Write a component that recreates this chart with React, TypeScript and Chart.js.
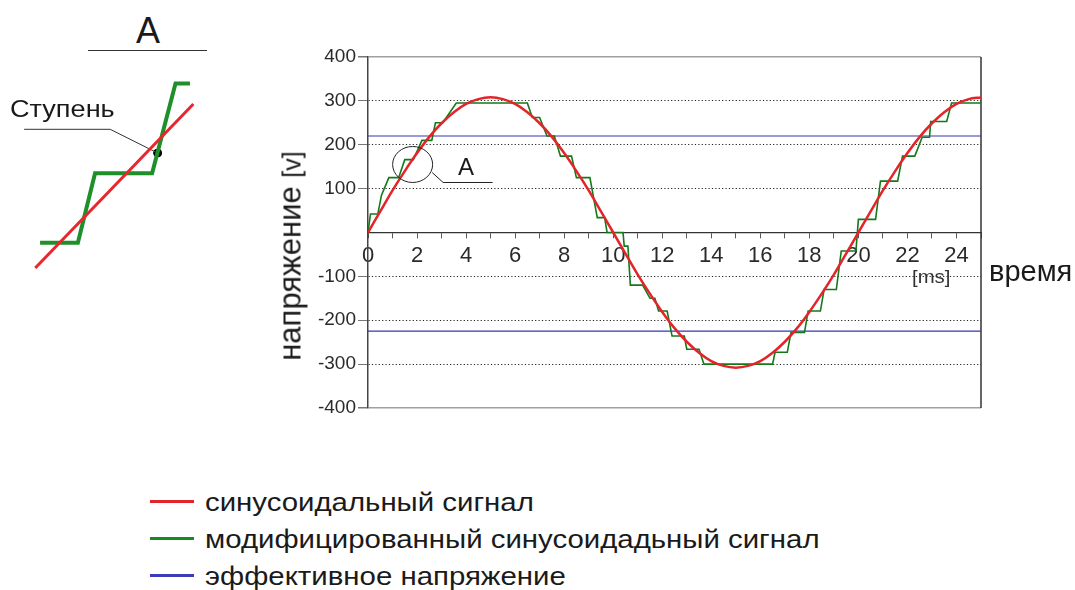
import React, { useEffect, useRef } from "react";
import { Chart, registerables } from "chart.js";

Chart.register(...registerables);

// ---------- data ----------
const sineTimes = [
  0, 0.5, 1, 1.5, 2, 2.5, 3, 3.5, 4, 4.5, 5, 5.5, 6, 6.5, 7, 7.5, 8, 8.5, 9, 9.5,
  10, 10.5, 11, 11.5, 12, 12.5, 13, 13.5, 14, 14.5, 15, 15.5, 16, 16.5, 17, 17.5,
  18, 18.5, 19, 19.5, 20, 20.5, 21, 21.5, 22, 22.5, 23, 23.5, 24, 24.5, 25,
];
const sineValues = [
  0, 48, 96, 140, 181, 218, 249, 274, 293, 304, 308, 304, 293, 274, 249, 218, 181, 140, 96, 48,
  0, -48, -96, -140, -181, -218, -249, -274, -293, -304, -308, -304, -293, -274, -249, -218,
  -181, -140, -96, -48, 0, 48, 96, 140, 181, 218, 249, 274, 293, 304, 308,
];

const stepTimes = [
  0, 0.1, 0.4, 0.55, 0.85, 1.25, 1.5, 1.85, 2.2, 2.6, 2.75, 3.05, 3.6,
  6.5, 6.7, 7.0, 7.3, 7.6, 7.85, 8.3, 8.5, 9.05, 9.35, 9.65, 9.75, 10.4, 10.45, 10.6, 10.7, 11.2,
  11.5, 11.7, 11.85, 12.2, 12.4, 12.9, 13.0, 13.5, 13.7,
  16.5, 16.6, 17.1, 17.25, 17.8, 17.95, 18.45, 18.6, 19.1, 19.3, 19.9, 20.0, 20.7, 20.9, 21.6,
  21.8, 22.3, 22.6, 22.9, 22.95, 23.6, 23.8, 25,
];
const stepValues = [
  0, 42, 42, 85, 125, 125, 166, 166, 210, 210, 250, 250, 295,
  295, 262, 262, 220, 220, 174, 174, 125, 125, 34, 34, 0, 0, -31, -31, -120, -120,
  -150, -150, -179, -179, -236, -236, -266, -266, -300,
  -300, -273, -273, -228, -228, -179, -179, -130, -130, -42, -42, 30, 30, 117, 117,
  174, 174, 217, 217, 253, 253, 295, 295,
];

const rmsTimes = [0, 25];
const rmsPositive = [220, 220];
const rmsNegative = [-225, -225];

const xTickLabels = [0, 2, 4, 6, 8, 10, 12, 14, 16, 18, 20, 22, 24];
const yTickValues = [-400, -300, -200, -100, 0, 100, 200, 300, 400];

// circled region "A" on the main chart (ms, V)
const markerTime = 1.82;
const markerValue = 155;

// inset "A" (zoomed detail): time in ms, voltage in V
const insetSineTimes = [1.22, 2.37];
const insetSineValues = [110, 207];
const insetStepTimes = [1.255, 1.53, 1.655, 2.07, 2.24, 2.345];
const insetStepValues = [125, 125, 166, 166, 219, 219];
const insetDotTime = [2.11];
const insetDotValue = [178];
const insetLeaderTimes = [2.11, 1.765, 1.139];
const insetLeaderValues = [178, 192, 192];

const legendItems = [
  { label: "синусоидальный сигнал", color: "#e3242b" },
  { label: "модифицированный синусоидадьный сигнал", color: "#178a22" },
  { label: "эффективное напряжение", color: "#3c3cb8" },
];

const FONT = "'Liberation Sans', Arial, sans-serif";

const pts = (xs: number[], ys: number[]) => xs.map((x, i) => ({ x, y: ys[i] }));

export default function App() {
  const mainRef = useRef<HTMLCanvasElement | null>(null);
  const insetRef = useRef<HTMLCanvasElement | null>(null);

  useEffect(() => {
    const framePlugin = {
      id: "framePlugin",
      beforeDatasetsDraw(chart: any) {
        const { ctx, chartArea: a } = chart;
        ctx.save();
        ctx.strokeStyle = "#333";
        ctx.lineWidth = 1.5;
        ctx.beginPath();
        ctx.moveTo(a.right, a.top);
        ctx.lineTo(a.right, a.bottom);
        ctx.stroke();
        ctx.restore();
      },
      afterDatasetsDraw(chart: any) {
        const { ctx, scales } = chart;
        const cx = scales.x.getPixelForValue(markerTime);
        const cy = scales.y.getPixelForValue(markerValue);
        ctx.save();
        ctx.strokeStyle = "#222";
        ctx.lineWidth = 1;
        ctx.beginPath();
        ctx.ellipse(cx, cy, 20, 18, 0, 0, Math.PI * 2);
        ctx.stroke();
        ctx.beginPath();
        ctx.moveTo(cx + 19.5, cy + 8);
        ctx.lineTo(cx + 30.5, cy + 18);
        ctx.lineTo(cx + 80, cy + 18);
        ctx.stroke();
        ctx.restore();
      },
    };

    const main = new Chart(mainRef.current as HTMLCanvasElement, {
      type: "line",
      data: {
        datasets: [
          {
            label: legendItems[0].label,
            data: pts(sineTimes, sineValues),
            borderColor: "#e3242b",
            borderWidth: 2.5,
            pointRadius: 0,
            cubicInterpolationMode: "monotone",
          },
          {
            label: legendItems[1].label,
            data: pts(stepTimes, stepValues),
            borderColor: "#127a18",
            borderWidth: 1.6,
            pointRadius: 0,
            tension: 0,
          },
          {
            label: legendItems[2].label,
            data: pts(rmsTimes, rmsPositive),
            borderColor: "#3636b0",
            borderWidth: 1.2,
            pointRadius: 0,
          },
          {
            label: "rms-neg",
            data: pts(rmsTimes, rmsNegative),
            borderColor: "#3636b0",
            borderWidth: 1.2,
            pointRadius: 0,
          },
        ],
      },
      options: {
        animation: false,
        responsive: false,
        maintainAspectRatio: false,
        events: [],
        layout: { padding: { left: 0, right: 19, top: 17, bottom: 32 } },
        plugins: { legend: { display: false }, tooltip: { enabled: false } },
        scales: {
          x: {
            type: "linear",
            position: { y: 0 } as any,
            min: 0,
            max: 25,
            afterBuildTicks: (scale: any) => {
              const t = [];
              for (let v = 0; v <= 25; v++) t.push({ value: v });
              scale.ticks = t;
            },
            ticks: {
              autoSkip: false,
              maxRotation: 0,
              padding: 5,
              color: "#2a2a2a",
              font: { family: FONT, size: 22 },
              callback: (v: any) => (xTickLabels.includes(Number(v)) ? String(v) : ""),
            },
            grid: { drawOnChartArea: false, drawTicks: true, tickLength: 5, tickColor: "#555", lineWidth: 1 },
            border: { display: true, color: "#333", width: 1.3 },
          },
          y: {
            type: "linear",
            min: -400,
            max: 400,
            afterBuildTicks: (scale: any) => {
              scale.ticks = yTickValues.map((v) => ({ value: v }));
            },
            afterFit: (scale: any) => {
              scale.width = 68;
            },
            ticks: {
              padding: 2,
              color: "#2a2a2a",
              font: { family: FONT, size: 19 },
              callback: (v: any) => (Number(v) === 0 ? "" : String(v)),
            },
            grid: {
              color: (c: any) => {
                const v = c.tick ? c.tick.value : 0;
                if (v === 0) return "rgba(0,0,0,0)";
                if (Math.abs(v) === 400) return "#a0a0a0";
                return "#222";
              },
              lineWidth: (c: any) => (c.tick && Math.abs(c.tick.value) === 400 ? 1.5 : 1),
              tickLength: 10,
              tickColor: (c: any) => (c.tick && c.tick.value === 0 ? "rgba(0,0,0,0)" : "#777"),
            },
            border: {
              display: true,
              color: "#444",
              width: 1.5,
              dash: (c: any) => (c.tick && Math.abs(c.tick.value) < 400 ? [1.2, 2.2] : []),
            } as any,
          },
        },
      },
      plugins: [framePlugin],
    } as any);

    const inset = new Chart(insetRef.current as HTMLCanvasElement, {
      type: "line",
      data: {
        datasets: [
          {
            data: pts(insetSineTimes, insetSineValues),
            borderColor: "#e8262e",
            borderWidth: 3,
            pointRadius: 0,
          },
          {
            data: pts(insetStepTimes, insetStepValues),
            borderColor: "#1f8f2a",
            borderWidth: 4,
            pointRadius: 0,
          },
          {
            data: pts(insetLeaderTimes, insetLeaderValues),
            borderColor: "#333",
            borderWidth: 1,
            pointRadius: 0,
          },
          {
            data: pts(insetDotTime, insetDotValue),
            showLine: false,
            pointRadius: 4,
            pointBackgroundColor: "#000",
            pointBorderColor: "#000",
          },
        ],
      },
      options: {
        animation: false,
        responsive: false,
        maintainAspectRatio: false,
        events: [],
        layout: { padding: 0 },
        plugins: { legend: { display: false }, tooltip: { enabled: false } },
        scales: {
          x: { type: "linear", min: 1.0, max: 2.6, display: false },
          y: { type: "linear", min: 100, max: 230, display: false },
        },
      },
    } as any);

    return () => {
      main.destroy();
      inset.destroy();
    };
  }, []);

  const abs = (s: React.CSSProperties): React.CSSProperties => ({ position: "absolute", ...s });
  const stretch: React.CSSProperties = { transform: "scaleX(1.13)", transformOrigin: "0 0" };

  return (
    <div
      style={{
        position: "absolute",
        left: 0,
        top: 0,
        width: 1075,
        height: 590,
        background: "#fff",
        fontFamily: FONT,
        color: "#1a1a1a",
        overflow: "hidden",
      }}
    >
      <canvas ref={mainRef} width={700} height={400} style={abs({ left: 300, top: 40, width: 700, height: 400 })} />
      <canvas ref={insetRef} width={230} height={230} style={abs({ left: 0, top: 60, width: 230, height: 230 })} />

      {/* inset heading */}
      <div style={abs({ left: 88, top: 10, width: 120, textAlign: "center", fontSize: 36, lineHeight: "42px" })}>A</div>
      <div style={abs({ left: 88, top: 50, width: 119, height: 0, borderTop: "1.5px solid #333" })} />
      <div style={abs({ left: 10, top: 96, fontSize: 24, lineHeight: "26px", whiteSpace: "nowrap", ...stretch })}>
        Ступень
      </div>

      {/* main chart texts */}
      <div style={abs({ left: 458, top: 153, fontSize: 24, lineHeight: "28px" })}>A</div>
      <div style={abs({ left: 912, top: 267, fontSize: 18, lineHeight: "20px", color: "#333", ...stretch })}>[ms]</div>
      <div style={abs({ left: 989, top: 255, fontSize: 29, lineHeight: "32px", whiteSpace: "nowrap" })}>время</div>
      <div
        style={abs({
          left: 291,
          top: 256,
          transform: "translate(-50%, -50%) rotate(-90deg)",
          whiteSpace: "nowrap",
          fontSize: 31,
          lineHeight: "34px",
        })}
      >
        напряжение <span style={{ fontSize: 25 }}>[v]</span>
      </div>

      {/* legend */}
      {legendItems.map((it, i) => (
        <div key={i} style={abs({ left: 150, top: 487 + i * 37, height: 30, whiteSpace: "nowrap" })}>
          <div style={abs({ left: 0, top: 13, width: 44, height: 3, background: it.color })} />
          <div style={abs({ left: 55, top: 0, fontSize: 26, lineHeight: "30px", ...stretch })}>{it.label}</div>
        </div>
      ))}
    </div>
  );
}
